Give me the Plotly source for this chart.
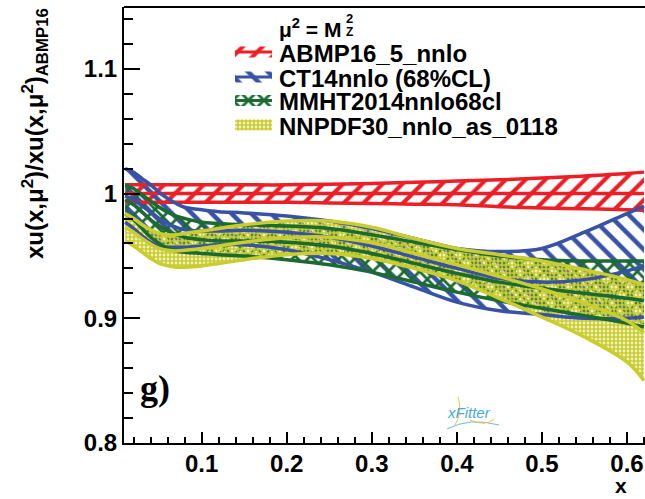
import plotly.graph_objects as go

# ---------------- data ----------------
X = [0.01, 0.02, 0.03, 0.04, 0.05, 0.06, 0.07, 0.08, 0.10, 0.12, 0.15,
     0.20, 0.25, 0.30, 0.35, 0.40, 0.45, 0.50, 0.55, 0.60, 0.62]

ABMP_HI = [1.007, 1.007, 1.007, 1.007, 1.007, 1.007, 1.007, 1.007, 1.007, 1.007, 1.007,
           1.007, 1.0075, 1.008, 1.009, 1.010, 1.011, 1.0125, 1.014, 1.016, 1.0172]
ABMP_C = [1.0] * len(X)
ABMP_LO = [0.993, 0.993, 0.993, 0.993, 0.993, 0.993, 0.993, 0.993, 0.993, 0.993, 0.993,
           0.993, 0.9925, 0.992, 0.9915, 0.991, 0.9895, 0.9885, 0.9878, 0.987, 0.9866]

CT14_HI = [1.020, 1.017, 1.012, 1.007, 1.001, 0.996, 0.992, 0.989, 0.987, 0.9855, 0.9845,
           0.982, 0.978, 0.972, 0.964, 0.956, 0.9535, 0.956, 0.969, 0.984, 0.990]
CT14_C = [0.998, 0.995, 0.990, 0.985, 0.980, 0.976, 0.973, 0.971, 0.970, 0.970, 0.9705,
          0.969, 0.965, 0.958, 0.949, 0.940, 0.932, 0.929, 0.931, 0.938, 0.942]
CT14_LO = [0.977, 0.972, 0.966, 0.961, 0.958, 0.957, 0.957, 0.957, 0.958, 0.959, 0.959,
           0.955, 0.947, 0.937, 0.925, 0.913, 0.906, 0.903, 0.900, 0.900, 0.901]

MMHT_HI = [1.007, 1.004, 0.999, 0.994, 0.989, 0.985, 0.982, 0.980, 0.977, 0.976, 0.975,
           0.974, 0.972, 0.967, 0.961, 0.955, 0.950, 0.947, 0.946, 0.946, 0.946]
MMHT_C = [0.995, 0.991, 0.985, 0.979, 0.974, 0.970, 0.967, 0.965, 0.963, 0.962, 0.962,
          0.961, 0.958, 0.952, 0.944, 0.936, 0.929, 0.924, 0.920, 0.916, 0.914]
MMHT_LO = [0.984, 0.979, 0.972, 0.965, 0.960, 0.956, 0.954, 0.953, 0.952, 0.951, 0.950,
           0.947, 0.943, 0.937, 0.929, 0.921, 0.914, 0.908, 0.902, 0.896, 0.893]

NNPDF_HI = [0.984, 0.980, 0.975, 0.971, 0.968, 0.967, 0.967, 0.968, 0.970, 0.972, 0.975,
            0.978, 0.978, 0.973, 0.964, 0.956, 0.951, 0.946, 0.939, 0.931, 0.927]
NNPDF_C = [0.973, 0.969, 0.964, 0.9595, 0.956, 0.9545, 0.954, 0.9545, 0.956, 0.958, 0.961,
           0.9645, 0.965, 0.9605, 0.952, 0.943, 0.9335, 0.9235, 0.912, 0.898, 0.8885]
NNPDF_LO = [0.962, 0.958, 0.953, 0.948, 0.944, 0.942, 0.941, 0.941, 0.942, 0.944, 0.947,
            0.951, 0.952, 0.948, 0.940, 0.930, 0.916, 0.901, 0.885, 0.865, 0.850]

NAMES = ["ABMP16_5_nnlo", "CT14nnlo (68%CL)", "MMHT2014nnlo68cl", "NNPDF30_nnlo_as_0118"]
X_TICKS = [0.1, 0.2, 0.3, 0.4, 0.5, 0.6]
X_TICKTEXT = ["0.1", "0.2", "0.3", "0.4", "0.5", "0.6"]
Y_TICKS = [0.8, 0.9, 1.0, 1.1]
Y_TICKTEXT = ["0.8", "0.9", "1", "1.1"]

# ---------------- styling ----------------
RED = "#ec1f26"
BLUE = "#3852a6"
GREEN = "#1b6a32"
YELLOW = "#c9cd2f"

W, H = 645, 499
ML, MT, MB = 124, 7, 56
PW, PH = W - ML, H - MT - MB

def px(xp):
    return (xp - ML) / PW

def py(yp):
    return (H - MB - yp) / PH

BOLD = dict(family="Liberation Sans, Arial, sans-serif", weight="bold", color="black")

bands = [
    (ABMP_LO, ABMP_C, ABMP_HI, RED, dict(shape="/", size=14, solidity=0.3), True),
    (CT14_LO, CT14_C, CT14_HI, BLUE, dict(shape="\\", size=14, solidity=0.32), True),
    (MMHT_LO, MMHT_C, MMHT_HI, GREEN, dict(shape="x", size=11, solidity=0.45), True),
    (NNPDF_LO, NNPDF_C, NNPDF_HI, YELLOW, dict(shape=".", size=4, solidity=0.75), False),
]

fig = go.Figure()

# pattern fills
for lo, c, hi, col, pat, _ in bands:
    fig.add_trace(go.Scatter(x=X, y=lo, mode="lines", line=dict(width=0, shape="spline"),
                             hoverinfo="skip", showlegend=False))
    fig.add_trace(go.Scatter(x=X, y=hi, mode="lines", line=dict(width=0, shape="spline"),
                             fill="tonexty", fillcolor="rgba(0,0,0,0)",
                             fillpattern=dict(fgcolor=col, bgcolor="rgba(0,0,0,0)",
                                              fillmode="replace", **pat),
                             hoverinfo="skip", showlegend=False))

# edge and central lines
for lo, c, hi, col, pat, _ in bands:
    for arr in (lo, hi, c):
        fig.add_trace(go.Scatter(x=X, y=arr, mode="lines",
                                 line=dict(color=col, width=3.5, shape="spline"),
                                 hoverinfo="skip", showlegend=False))

# legend keys (helper pixel axes)
leg_y = [52, 77, 100.5, 125]
for (lo, c, hi, col, pat, cline), yc in zip(bands, leg_y):
    fig.add_trace(go.Scatter(x=[235, 272, 272, 235, 235],
                             y=[yc - 5.5, yc - 5.5, yc + 5.5, yc + 5.5, yc - 5.5],
                             xaxis="x2", yaxis="y2", mode="lines", line=dict(width=0),
                             fill="toself", fillcolor="rgba(0,0,0,0)",
                             fillpattern=dict(fgcolor=col, bgcolor="rgba(0,0,0,0)",
                                              fillmode="replace", **pat),
                             hoverinfo="skip", showlegend=False))
    if cline:
        fig.add_trace(go.Scatter(x=[235, 272], y=[yc, yc], xaxis="x2", yaxis="y2",
                                 mode="lines", line=dict(color=col, width=3),
                                 hoverinfo="skip", showlegend=False))

annotations = []
for name, yc in zip(NAMES, leg_y):
    annotations.append(dict(x=px(277), y=py(yc + 1.5), xref="paper", yref="paper",
                            text=name, showarrow=False, xanchor="left", yanchor="middle",
                            font=dict(size=24, **BOLD)))

# legend header mu^2 = M_Z^2
annotations.append(dict(x=px(277), y=py(28), xref="paper", yref="paper",
                        text="μ<sup>2</sup> = M", showarrow=False, xanchor="left",
                        yanchor="middle", font=dict(size=21, **BOLD)))
annotations.append(dict(x=px(344), y=py(18), xref="paper", yref="paper", text="2",
                        showarrow=False, xanchor="left", yanchor="middle",
                        font=dict(size=13, **BOLD)))
annotations.append(dict(x=px(344), y=py(32), xref="paper", yref="paper", text="Z",
                        showarrow=False, xanchor="left", yanchor="middle",
                        font=dict(size=12, **BOLD)))

# axis titles
annotations.append(dict(x=px(35), y=py(134), xref="paper", yref="paper",
                        text="xu(x,μ<sup>2</sup>)/xu(x,μ<sup>2</sup>)<sub>ABMP16</sub>",
                        textangle=-90, showarrow=False, xanchor="center", yanchor="middle",
                        font=dict(size=24, **BOLD)))
annotations.append(dict(x=px(621), y=py(499), xref="paper", yref="paper", text="x",
                        showarrow=False, xanchor="center", yanchor="bottom",
                        font=dict(size=21, **BOLD)))

# panel label and logo
annotations.append(dict(x=px(138), y=py(388), xref="paper", yref="paper", text="g)",
                        showarrow=False, xanchor="left", yanchor="middle",
                        font=dict(family="Liberation Serif, Times New Roman, serif",
                                  weight="bold", size=36, color="black")))
annotations.append(dict(x=px(445), y=py(412), xref="paper", yref="paper", text="<i>xFitter</i>",
                        showarrow=False, xanchor="left", yanchor="middle",
                        font=dict(family="Liberation Sans, Arial, sans-serif", size=15,
                                  color="#49a9e0")))

shapes = [
    dict(type="line", xref="paper", yref="paper", x0=0, x1=1, y0=1, y1=1,
         line=dict(color="black", width=2)),
    dict(type="path", xref="paper", yref="paper",
         path=f"M {px(455)},{py(425)} Q {px(463)},{py(412)} {px(458)},{py(397)}",
         line=dict(color="#f2c040", width=1)),
    dict(type="path", xref="paper", yref="paper",
         path=f"M {px(447)},{py(429)} Q {px(470)},{py(417)} {px(499)},{py(425)}",
         line=dict(color="#6bbbe8", width=1)),
    dict(type="path", xref="paper", yref="paper",
         path=f"M {px(470)},{py(420)} Q {px(486)},{py(427)} {px(494)},{py(419)}",
         line=dict(color="#f2c040", width=1)),
]

fig.update_layout(
    width=W, height=H,
    margin=dict(l=ML, r=0, t=MT, b=MB, pad=0),
    paper_bgcolor="white", plot_bgcolor="white",
    showlegend=False,
    xaxis=dict(range=[0.00865, 0.6212], tickvals=X_TICKS, ticktext=X_TICKTEXT,
               showgrid=False, zeroline=False, showline=True, linecolor="black",
               linewidth=2, ticks="inside", ticklen=11, tickwidth=2, tickcolor="black",
               tickfont=dict(size=24, **BOLD), ticklabelstandoff=-2,
               minor=dict(ticks="inside", ticklen=6, tickwidth=1.5, tickcolor="black",
                          dtick=0.02, tick0=0, showgrid=False)),
    yaxis=dict(range=[0.8, 1.1496], tickvals=Y_TICKS, ticktext=Y_TICKTEXT,
               showgrid=False, zeroline=False, showline=True, linecolor="black",
               linewidth=2, ticks="inside", ticklen=16, tickwidth=2, tickcolor="black",
               tickfont=dict(size=24, **BOLD),
               minor=dict(ticks="inside", ticklen=9, tickwidth=1.5, tickcolor="black",
                          dtick=0.02, tick0=0.8, showgrid=False)),
    xaxis2=dict(domain=[0, 1], range=[ML, W], overlaying="x", anchor="y2", visible=False,
                fixedrange=True),
    yaxis2=dict(range=[H - MB, MT], overlaying="y", anchor="x2", visible=False,
                fixedrange=True),
    annotations=annotations,
    shapes=shapes,
)

fig.write_html("out.html")
